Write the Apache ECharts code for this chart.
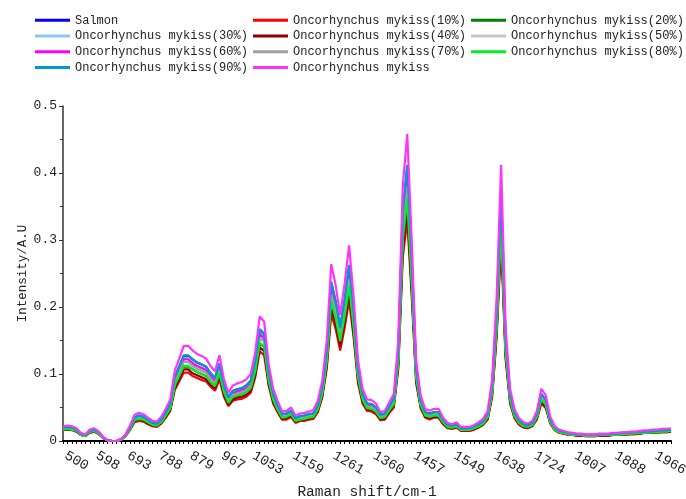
<!DOCTYPE html>
<html>
<head>
<meta charset="utf-8">
<script src="https://cdn.jsdelivr.net/npm/echarts@6/dist/echarts.min.js"></script>
<style>html,body{margin:0;padding:0;background:#fff}#c{width:686px;height:499px}</style>
</head>
<body>
<div id="c"></div>
<script>
// Raman shift categories (cm-1), uniform spectrometer index
const ramanShift = [500,514,528,542,556,570,584,598,612,625,
639,652,666,679,693,707,720,734,747,761,
774,788,801,814,827,840,853,866,879,892,
904,917,929,942,954,967,979,992,1004,1016,
1028,1041,1053,1065,1077,1088,1100,1112,1124,1135,
1147,1159,1170,1182,1193,1204,1216,1227,1238,1250,
1261,1272,1283,1294,1305,1316,1327,1338,1349,1360,
1371,1382,1392,1403,1414,1425,1436,1446,1457,1467,
1477,1488,1498,1508,1518,1529,1539,1549,1559,1569,
1579,1589,1598,1608,1618,1628,1638,1648,1657,1667,
1676,1686,1695,1705,1714,1724,1733,1742,1752,1761,
1770,1779,1789,1798,1807,1816,1825,1834,1843,1852,
1861,1870,1879,1888,1897,1905,1914,1923,1931,1940,
1949,1957,1966,1975,1983,1992,2000];

const xTickLabels = [500,598,693,788,879,967,1053,1159,1261,1360,1457,1549,1638,1724,1807,1888,1966];
const yTicks = [0,0.1,0.2,0.3,0.4,0.5];

const salmon = [.020,.021,.020,.017,.011,.009,.015,.017,.013,.005,
.001,0,0,.003,.009,.021,.035,.038,.036,.032,
.027,.026,.032,.043,.056,.095,.111,.127,.127,.122,
.117,.114,.111,.101,.094,.115,.083,.065,.075,.077,
.079,.083,.090,.119,.165,.160,.104,.070,.054,.040,
.041,.045,.034,.037,.038,.040,.041,.054,.081,.135,
.235,.207,.169,.209,.260,.191,.108,.070,.056,.055,
.050,.039,.041,.052,.063,.135,.338,.408,.267,.108,
.061,.043,.041,.043,.043,.032,.024,.023,.025,.019,
.019,.019,.022,.025,.030,.041,.083,.191,.367,.151,
.070,.042,.031,.025,.023,.027,.041,.070,.061,.032,
.020,.015,.014,.012,.011,.010,.010,.009,.009,.009,
.010,.010,.010,.011,.011,.012,.012,.013,.013,.014,
.014,.014,.015,.015,.016,.016,.017];

const om10 = [.016,.017,.016,.014,.009,.007,.012,.014,.010,.004,
.001,0,0,.002,.007,.017,.028,.030,.029,.025,
.022,.021,.026,.035,.045,.076,.089,.102,.102,.097,
.094,.091,.089,.081,.075,.092,.066,.052,.060,.062,
.063,.066,.072,.095,.134,.128,.083,.056,.043,.032,
.032,.036,.027,.030,.030,.032,.033,.043,.065,.108,
.190,.167,.135,.169,.210,.155,.086,.056,.045,.044,
.040,.031,.032,.042,.050,.108,.274,.330,.216,.086,
.049,.035,.032,.035,.035,.025,.019,.018,.020,.015,
.015,.015,.017,.020,.024,.032,.066,.155,.297,.122,
.056,.034,.024,.020,.019,.022,.032,.056,.049,.026,
.016,.012,.011,.009,.009,.008,.008,.007,.007,.007,
.008,.008,.008,.009,.009,.009,.009,.010,.010,.011,
.012,.012,.012,.012,.013,.013,.014];

const om20 = [.017,.018,.017,.015,.009,.008,.013,.015,.011,.005,
.001,0,0,.002,.008,.018,.031,.033,.032,.028,
.024,.023,.028,.038,.049,.083,.097,.111,.111,.107,
.103,.100,.097,.088,.082,.101,.073,.057,.066,.068,
.070,.073,.079,.104,.145,.141,.091,.062,.047,.035,
.036,.040,.030,.032,.033,.035,.036,.047,.071,.119,
.206,.181,.149,.183,.228,.168,.095,.062,.049,.048,
.044,.034,.036,.046,.055,.119,.296,.357,.234,.095,
.054,.038,.036,.038,.038,.028,.021,.020,.022,.017,
.017,.017,.019,.022,.026,.036,.073,.168,.321,.133,
.062,.037,.027,.022,.021,.024,.036,.062,.054,.028,
.017,.013,.012,.010,.009,.009,.009,.008,.008,.008,
.009,.009,.009,.009,.009,.010,.010,.011,.011,.012,
.013,.013,.013,.013,.014,.014,.015];

const om30 = [.019,.020,.019,.016,.010,.009,.015,.016,.012,.005,
.001,0,0,.003,.009,.020,.034,.036,.034,.030,
.026,.025,.031,.041,.053,.090,.106,.124,.124,.116,
.112,.109,.106,.096,.089,.110,.079,.062,.071,.074,
.076,.079,.086,.114,.162,.153,.099,.067,.052,.038,
.039,.043,.033,.035,.036,.038,.040,.052,.077,.129,
.230,.202,.162,.204,.254,.187,.103,.067,.053,.052,
.048,.037,.039,.050,.060,.129,.331,.398,.261,.103,
.058,.041,.039,.041,.041,.030,.023,.022,.024,.018,
.018,.018,.021,.024,.028,.039,.079,.187,.358,.148,
.067,.040,.029,.024,.022,.026,.039,.067,.058,.031,
.019,.015,.013,.011,.010,.009,.009,.009,.009,.009,
.009,.009,.009,.010,.010,.011,.011,.012,.012,.013,
.014,.014,.015,.015,.015,.015,.016];

const om40 = [.017,.017,.017,.014,.009,.008,.013,.014,.011,.005,
.001,0,0,.002,.008,.017,.029,.032,.030,.026,
.023,.022,.027,.036,.047,.079,.092,.107,.107,.101,
.098,.095,.092,.084,.078,.096,.069,.054,.062,.065,
.066,.069,.075,.099,.140,.134,.086,.059,.045,.033,
.034,.038,.029,.031,.032,.033,.035,.045,.068,.113,
.198,.174,.141,.176,.219,.161,.090,.059,.047,.046,
.042,.032,.034,.044,.053,.113,.285,.344,.225,.090,
.051,.036,.034,.036,.036,.026,.020,.019,.021,.016,
.016,.016,.018,.021,.025,.034,.069,.161,.309,.128,
.059,.035,.026,.021,.020,.023,.034,.059,.051,.027,
.017,.013,.011,.010,.009,.008,.008,.008,.008,.008,
.008,.008,.008,.009,.009,.010,.010,.011,.011,.011,
.012,.012,.013,.013,.014,.014,.014];

const om50 = [.018,.019,.018,.016,.010,.008,.014,.016,.012,.005,
.001,0,0,.002,.008,.019,.032,.035,.033,.029,
.025,.024,.030,.040,.051,.087,.102,.119,.119,.112,
.108,.105,.102,.093,.086,.106,.076,.060,.069,.071,
.073,.076,.083,.110,.156,.148,.095,.065,.050,.037,
.037,.042,.032,.034,.035,.037,.038,.050,.075,.125,
.222,.195,.156,.197,.245,.181,.100,.065,.051,.051,
.046,.036,.037,.048,.058,.125,.319,.385,.252,.100,
.056,.040,.037,.040,.040,.029,.022,.021,.023,.017,
.017,.017,.020,.023,.027,.037,.076,.181,.346,.143,
.065,.039,.028,.023,.022,.025,.037,.065,.056,.030,
.018,.014,.012,.011,.010,.009,.009,.008,.008,.008,
.009,.009,.009,.010,.010,.011,.011,.012,.012,.012,
.013,.013,.014,.014,.015,.015,.016];

const om60 = [.019,.020,.019,.016,.010,.009,.015,.016,.012,.005,
.001,0,0,.003,.009,.020,.034,.036,.034,.030,
.026,.025,.031,.041,.053,.090,.106,.122,.122,.116,
.112,.109,.106,.096,.089,.110,.079,.062,.071,.074,
.076,.079,.086,.114,.160,.153,.099,.067,.052,.038,
.039,.043,.033,.035,.036,.038,.040,.052,.077,.129,
.227,.200,.162,.202,.251,.185,.103,.067,.053,.052,
.048,.037,.039,.050,.060,.129,.327,.394,.258,.103,
.058,.041,.039,.041,.041,.030,.023,.022,.024,.018,
.018,.018,.021,.024,.028,.039,.079,.185,.354,.146,
.067,.040,.029,.024,.022,.026,.039,.067,.058,.031,
.019,.015,.013,.011,.010,.009,.009,.009,.009,.009,
.009,.009,.009,.010,.010,.011,.011,.012,.012,.013,
.014,.014,.015,.015,.015,.015,.016];

const om70 = [.018,.019,.018,.016,.010,.008,.014,.016,.012,.005,
.001,0,0,.002,.008,.019,.032,.035,.033,.029,
.025,.024,.030,.040,.051,.087,.102,.118,.118,.112,
.108,.105,.102,.093,.086,.106,.076,.060,.069,.071,
.073,.076,.083,.110,.154,.148,.095,.065,.050,.037,
.037,.042,.032,.034,.035,.037,.038,.050,.075,.125,
.219,.193,.156,.195,.242,.178,.100,.065,.051,.051,
.046,.036,.037,.048,.058,.125,.315,.380,.249,.100,
.056,.040,.037,.040,.040,.029,.022,.021,.023,.017,
.017,.017,.020,.023,.027,.037,.076,.178,.342,.141,
.065,.039,.028,.023,.022,.025,.037,.065,.056,.030,
.018,.014,.012,.011,.010,.009,.009,.008,.008,.008,
.009,.009,.009,.010,.010,.011,.011,.012,.012,.012,
.013,.013,.014,.014,.015,.015,.016];

const om80 = [.017,.018,.017,.015,.009,.008,.013,.015,.011,.005,
.001,0,0,.002,.008,.018,.031,.033,.032,.028,
.024,.023,.028,.038,.049,.083,.097,.112,.112,.107,
.103,.100,.097,.088,.082,.101,.073,.057,.066,.068,
.070,.073,.079,.104,.147,.141,.091,.062,.047,.035,
.036,.040,.030,.032,.033,.035,.036,.047,.071,.119,
.209,.183,.149,.186,.231,.170,.095,.062,.049,.048,
.044,.034,.036,.046,.055,.119,.300,.362,.237,.095,
.054,.038,.036,.038,.038,.028,.021,.020,.022,.017,
.017,.017,.019,.022,.026,.036,.073,.170,.325,.134,
.062,.037,.027,.022,.021,.024,.036,.062,.054,.028,
.017,.013,.012,.010,.009,.009,.009,.008,.008,.008,
.009,.009,.009,.009,.009,.010,.010,.011,.011,.012,
.013,.013,.013,.013,.014,.014,.015];

const om90 = [.020,.021,.020,.017,.011,.009,.015,.017,.013,.005,
.001,0,0,.003,.009,.021,.035,.038,.036,.032,
.027,.026,.032,.043,.056,.095,.111,.128,.128,.122,
.117,.114,.111,.101,.094,.115,.083,.065,.075,.077,
.079,.083,.090,.119,.167,.160,.104,.070,.054,.040,
.041,.045,.034,.037,.038,.040,.041,.054,.081,.135,
.238,.209,.169,.212,.263,.194,.108,.070,.056,.055,
.050,.039,.041,.052,.063,.135,.342,.412,.270,.108,
.061,.043,.041,.043,.043,.032,.024,.023,.025,.019,
.019,.019,.022,.025,.030,.041,.083,.194,.371,.153,
.070,.042,.031,.025,.023,.027,.041,.070,.061,.032,
.020,.015,.014,.012,.011,.010,.010,.009,.009,.009,
.010,.010,.010,.011,.011,.012,.012,.013,.013,.014,
.014,.014,.015,.015,.016,.016,.017];

const omPure = [.022,.023,.022,.019,.012,.010,.017,.019,.014,.006,
.001,0,0,.003,.010,.023,.039,.042,.040,.035,
.030,.029,.036,.048,.062,.105,.123,.142,.142,.135,
.130,.127,.123,.112,.104,.128,.092,.072,.083,.086,
.088,.092,.100,.132,.186,.178,.115,.078,.060,.044,
.045,.050,.038,.041,.042,.044,.046,.060,.090,.150,
.264,.232,.188,.235,.292,.215,.120,.078,.062,.061,
.056,.043,.045,.058,.070,.150,.380,.458,.300,.120,
.068,.048,.045,.048,.048,.035,.027,.025,.028,.021,
.021,.021,.024,.028,.033,.045,.092,.215,.412,.170,
.078,.047,.034,.028,.026,.030,.045,.078,.068,.036,
.022,.017,.015,.013,.012,.011,.011,.010,.010,.010,
.011,.011,.011,.012,.012,.013,.013,.014,.014,.015,
.016,.016,.017,.017,.018,.018,.019];

const seriesNames = ['Salmon','Oncorhynchus mykiss(10%)','Oncorhynchus mykiss(20%)','Oncorhynchus mykiss(30%)',
  'Oncorhynchus mykiss(40%)','Oncorhynchus mykiss(50%)','Oncorhynchus mykiss(60%)','Oncorhynchus mykiss(70%)',
  'Oncorhynchus mykiss(80%)','Oncorhynchus mykiss(90%)','Oncorhynchus mykiss'];
const seriesValues = [salmon, om10, om20, om30, om40, om50, om60, om70, om80, om90, omPure];
const seriesColors = ['#0000ff','#ff0000','#008000','#8ec8ee','#8b0000','#c4c4c4','#ff00ff','#a0a0a0','#00ee22','#0099cc','#ff33ff'];

const mono = 'Liberation Mono';
const chart = echarts.init(document.getElementById('c'), null, {renderer:'canvas'});
chart.setOption({
  animation: false,
  backgroundColor: '#ffffff',
  color: seriesColors,
  legend: {
    left: 35, top: 14, width: 670, padding: 0,
    itemWidth: 35, itemHeight: 3, itemGap: 3, icon: 'rect',
    textStyle: {fontFamily: mono, fontSize: 12, color: '#222', width: 175, lineHeight: 12.7},
    data: seriesNames
  },
  grid: {left: 63, right: 15, top: 106, bottom: 58, containLabel: false, outerBoundsMode: 'none'},
  xAxis: {
    type: 'category',
    data: ramanShift.map(String),
    boundaryGap: false,
    name: 'Raman shift/cm-1',
    nameLocation: 'middle',
    nameGap: 44,
    nameMoveOverlap: false,
    nameTextStyle: {fontFamily: mono, fontSize: 14.5, color: '#222'},
    axisLine: {lineStyle: {color: '#000', width: 2}},
    axisTick: {show: true, interval: 0, length: 3, lineStyle: {color: '#000', width: 1}},
    axisLabel: {
      interval: function(idx, val){ return xTickLabels.indexOf(Number(val)) >= 0; },
      rotate: -30, margin: 12, padding: [0, 0, 0, 3],
      fontFamily: mono, fontSize: 14, color: '#222'
    },
    splitLine: {show: false}
  },
  yAxis: {
    type: 'value',
    min: yTicks[0], max: yTicks[yTicks.length-1], interval: 0.1,
    name: 'Intensity/A.U',
    nameLocation: 'middle',
    nameRotate: 90,
    nameGap: 34,
    nameMoveOverlap: false,
    nameTextStyle: {fontFamily: mono, fontSize: 12.5, color: '#222'},
    axisLine: {show: true, lineStyle: {color: '#333', width: 1.5}},
    axisTick: {show: true, length: 4, lineStyle: {color: '#333'}},
    minorTick: {show: true, splitNumber: 2, length: 3, lineStyle: {color: '#333'}},
    axisLabel: {fontFamily: mono, fontSize: 13, color: '#222', margin: 6},
    splitLine: {show: false}
  },
  series: seriesNames.map(function(n, k){
    return {
      name: n, type: 'line', data: seriesValues[k],
      showSymbol: false, symbol: 'none',
      lineStyle: {width: 2.2, color: seriesColors[k]},
      itemStyle: {color: seriesColors[k]},
      z: 2 + k
    };
  })
});
</script>
</body>
</html>
